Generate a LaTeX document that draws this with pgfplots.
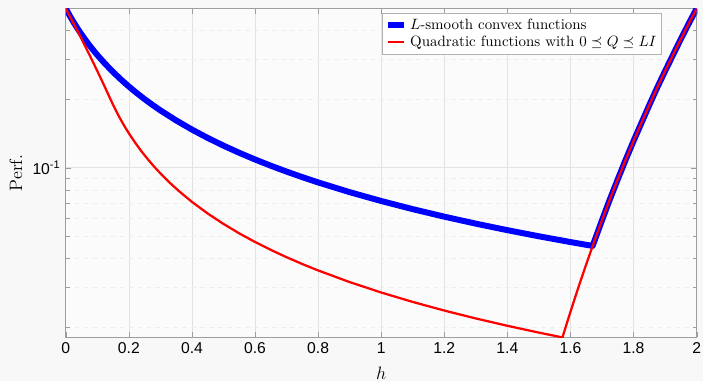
\documentclass[border=0pt]{standalone}
\usepackage{pgfplots}
\pgfplotsset{compat=1.18}
\usepackage{fontspec}
\newfontfamily\arial{Liberation Sans}
\definecolor{figbg}{gray}{0.972}
\definecolor{axbg}{gray}{0.985}
\definecolor{axline}{gray}{0.62}
\begin{document}
\begin{tikzpicture}
\fill[figbg] (-44pt,-29pt) rectangle (426pt,225.7pt);
\begin{axis}[
  at={(0,0)}, anchor=south west,
  scale only axis, width=422pt, height=220pt,
  ymode=log,
  xmin=0, xmax=2, ymin=0.01799, ymax=0.5,
  xtick={0,0.2,...,2.01},
  ytick={0.1}, yticklabels={10\textsuperscript{-1}},
  minor ytick={0.02,0.03,0.04,0.05,0.06,0.07,0.08,0.09,0.2,0.3,0.4},
  tick label style={font=\arial\fontsize{10.5}{12}\selectfont},
  /pgf/number format/assume math mode=true,
  axis background/.style={fill=axbg},
  axis line style={axline},
  major tick style={axline}, minor tick style={axline},
  major tick length=3.5pt, minor tick length=2.5pt,
  tick align=inside,
  grid=both,
  major grid style={gray!22},
  minor grid style={gray!14, dashed},
  xlabel={$h$}, ylabel={Perf.},
  xlabel style={yshift=-2pt},
  label style={font=\fontsize{12}{14}\selectfont},
  legend style={at={(rel axis cs:0.945,0.986)}, anchor=north east,
    draw=gray!60, fill=white, font=\fontsize{10}{12}\selectfont,
    inner sep=1.5pt, row sep=-1pt, cells={anchor=west}},
  legend image code/.code={\draw[#1] (0pt,0pt) -- (11pt,0pt);},
  clip=true,
]
\addplot[blue, line width=4pt, line join=round] coordinates {
(0,0.5) (0.0125,0.465116) (0.025,0.43478) (0.0375,0.408163) (0.05,0.384615)
(0.0625,0.363636) (0.075,0.344828) (0.0875,0.327869) (0.1,0.3125)
(0.125,0.285714) (0.15,0.263158) (0.175,0.243902) (0.2,0.227273)
(0.225,0.212766) (0.25,0.2) (0.275,0.188679) (0.3,0.178571) (0.35,0.16129)
(0.4,0.147059) (0.45,0.135135) (0.5,0.125) (0.55,0.116279) (0.6,0.108696)
(0.65,0.102041) (0.7,0.096154) (0.75,0.090909) (0.8,0.086207)
(0.9,0.078125) (1.0,0.071429) (1.1,0.065789) (1.2,0.060976) (1.3,0.056818)
(1.4,0.053191) (1.5,0.05) (1.6,0.04717) (1.65,0.045872) (1.6702,0.04537)
(1.7,0.0588245) (1.725,0.07273) (1.75,0.088989) (1.775,0.10843) (1.8,0.131072)
(1.825,0.15723) (1.85,0.188575) (1.875,0.22484) (1.9,0.2657205) (1.925,0.31264)
(1.95,0.367546) (1.975,0.42961) (2.0,0.5)
};
\addlegendentry{$L$-smooth convex functions}
\addplot[red, line width=1.5pt, line join=round] coordinates {
(0,0.5) (0.0125,0.463653) (0.025,0.429534) (0.0375,0.397532) (0.05,0.367546)
(0.0625,0.339470) (0.075,0.313199) (0.0875,0.288657) (0.1,0.2657205)
(0.1125,0.244345) (0.125,0.2243976) (0.1375,0.205834) (0.142857,0.198284)
(0.15,0.188843) (0.16,0.177040) (0.17,0.166626) (0.18,0.157369)
(0.19,0.149086) (0.2,0.141632) (0.22,0.128756) (0.24,0.118027)
(0.26,0.108948) (0.28,0.101166) (0.3,0.094421) (0.33,0.085838)
(0.36,0.078684) (0.4,0.070816) (0.45,0.062948) (0.5,0.056653)
(0.55,0.051503) (0.6,0.047211) (0.65,0.043579) (0.7,0.040466)
(0.75,0.037769) (0.8,0.035408) (0.9,0.031474)
(1.0,0.028326) (1.1,0.025751) (1.2,0.023605) (1.3,0.021790) (1.4,0.020233)
(1.5,0.018884) (1.5745,0.017991) (1.6,0.023328) (1.625,0.0298023)
(1.65,0.0377096) (1.675,0.0472926) (1.7,0.0588245) (1.725,0.07273)
(1.75,0.088989) (1.775,0.10843) (1.8,0.131072) (1.825,0.15723) (1.85,0.188575)
(1.875,0.22484) (1.9,0.2657205) (1.925,0.31264) (1.95,0.367546) (1.975,0.42961)
(2.0,0.5)
};
\addlegendentry{Quadratic functions with $0\preceq Q\preceq LI$}
\end{axis}
\end{tikzpicture}
\end{document}
